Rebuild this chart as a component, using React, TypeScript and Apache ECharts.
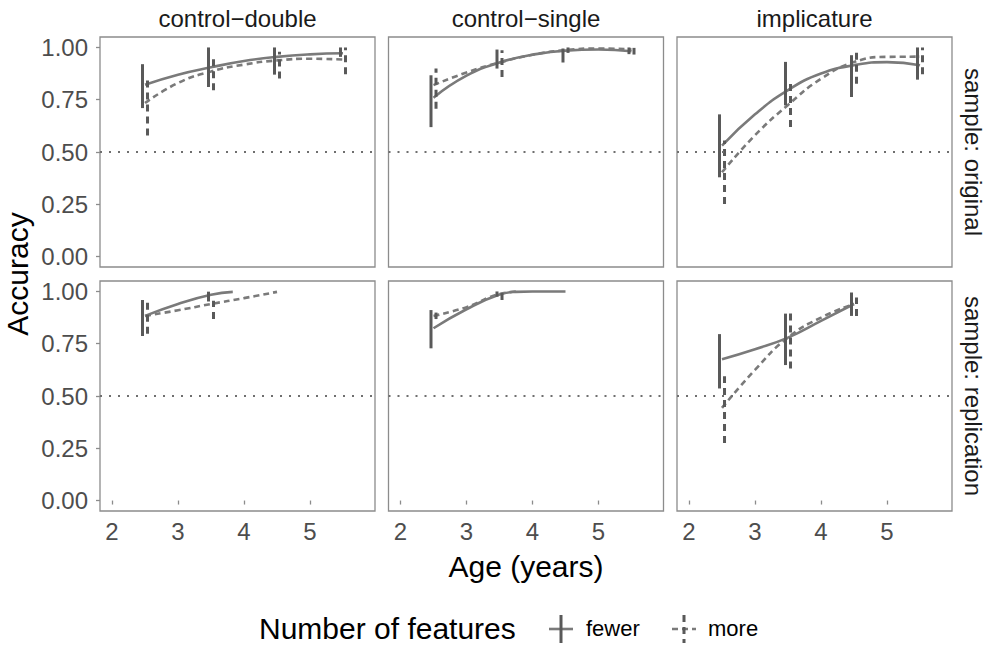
import React, { useEffect, useRef } from "react";
import * as echarts from "echarts";

const CONDITIONS = ["control\u2212double", "control\u2212single", "implicature"];
const SAMPLES = ["sample: original", "sample: replication"];
const Y_TICKS = [0, 0.25, 0.5, 0.75, 1];
const X_TICKS = [2, 3, 4, 5];
const BAR_AGES = [2.5, 3.5, 4.5, 5.5];
const CURVE_AGES = [2.5, 3, 3.5, 4, 4.5, 5, 5.5];
const CHANCE = 0.5;
const LEVELS = ["fewer", "more"];

// ---- sample: original ----
const origCdFewerCurve = [0.822, 0.87, 0.905, 0.935, 0.955, 0.967, 0.972];
const origCdMoreCurve = [0.734, 0.83, 0.885, 0.918, 0.938, 0.946, 0.942];
const origCsFewerCurve = [0.76, 0.865, 0.928, 0.965, 0.985, 0.99, 0.982];
const origCsMoreCurve = [0.82, 0.88, 0.928, 0.965, 0.987, 0.995, 0.99];
const origImFewerCurve = [0.531, 0.68, 0.796, 0.875, 0.915, 0.93, 0.915];
const origImMoreCurve = [0.403, 0.58, 0.725, 0.85, 0.93, 0.955, 0.956];

const origCdFewerLo = [0.71, 0.811, 0.87, 0.955];
const origCdFewerHi = [0.92, 1.0, 1.0, 1.0];
const origCdMoreLo = [0.579, 0.795, 0.851, 0.872];
const origCdMoreHi = [0.859, 0.947, 0.979, 1.0];
const origCsFewerLo = [0.619, 0.899, 0.928, 0.968];
const origCsFewerHi = [0.867, 0.99, 0.995, 1.0];
const origCsMoreLo = [0.707, 0.859, 0.974, 0.966];
const origCsMoreHi = [0.899, 0.987, 1.0, 0.998];
const origImFewerLo = [0.379, 0.723, 0.763, 0.846];
const origImFewerHi = [0.68, 0.931, 0.963, 1.0];
const origImMoreLo = [0.251, 0.619, 0.827, 0.872];
const origImMoreHi = [0.555, 0.835, 0.984, 1.0];

// ---- sample: replication ----
const repCdFewerAges = [2.5, 3, 3.5, 3.83];
const repCdFewerCurve = [0.883, 0.94, 0.984, 0.998];
const repCdMoreAges = [2.5, 3, 3.5, 4, 4.5];
const repCdMoreCurve = [0.883, 0.91, 0.94, 0.968, 0.998];
const repCsFewerAges = [2.5, 3, 3.5, 3.75, 4, 4.5];
const repCsFewerCurve = [0.824, 0.915, 0.985, 0.998, 1.0, 1.0];
const repCsMoreAges = [2.5, 3, 3.5, 3.8];
const repCsMoreCurve = [0.883, 0.925, 0.988, 1.0];
const repImAges = [2.5, 3, 3.5, 4, 4.5];
const repImFewerCurve = [0.676, 0.724, 0.779, 0.859, 0.94];
const repImMoreCurve = [0.443, 0.625, 0.78, 0.875, 0.94];

const repCdFewerLo = [0.787, 0.952];
const repCdFewerHi = [0.959, 0.999];
const repCdMoreLo = [0.798, 0.868];
const repCdMoreHi = [0.955, 0.955];
const repCsFewerLo = [0.728, 0.975];
const repCsFewerHi = [0.911, 1.0];
const repCsMoreLo = [0.868, 0.959];
const repCsMoreHi = [0.899, 0.995];
const repImFewerLo = [0.536, 0.648, 0.883];
const repImFewerHi = [0.796, 0.894, 0.995];
const repImMoreLo = [0.275, 0.632, 0.883];
const repImMoreHi = [0.595, 0.894, 0.971];

const zip = (xs: number[], ys: number[]) => ys.map((y, i) => [xs[i], y]);

const PANELS = [
  { row: 0, col: 0, fewer: zip(CURVE_AGES, origCdFewerCurve), more: zip(CURVE_AGES, origCdMoreCurve), fLo: origCdFewerLo, fHi: origCdFewerHi, mLo: origCdMoreLo, mHi: origCdMoreHi },
  { row: 0, col: 1, fewer: zip(CURVE_AGES, origCsFewerCurve), more: zip(CURVE_AGES, origCsMoreCurve), fLo: origCsFewerLo, fHi: origCsFewerHi, mLo: origCsMoreLo, mHi: origCsMoreHi },
  { row: 0, col: 2, fewer: zip(CURVE_AGES, origImFewerCurve), more: zip(CURVE_AGES, origImMoreCurve), fLo: origImFewerLo, fHi: origImFewerHi, mLo: origImMoreLo, mHi: origImMoreHi },
  { row: 1, col: 0, fewer: zip(repCdFewerAges, repCdFewerCurve), more: zip(repCdMoreAges, repCdMoreCurve), fLo: repCdFewerLo, fHi: repCdFewerHi, mLo: repCdMoreLo, mHi: repCdMoreHi },
  { row: 1, col: 1, fewer: zip(repCsFewerAges, repCsFewerCurve), more: zip(repCsMoreAges, repCsMoreCurve), fLo: repCsFewerLo, fHi: repCsFewerHi, mLo: repCsMoreLo, mHi: repCsMoreHi },
  { row: 1, col: 2, fewer: zip(repImAges, repImFewerCurve), more: zip(repImAges, repImMoreCurve), fLo: repImFewerLo, fHi: repImFewerHi, mLo: repImMoreLo, mHi: repImMoreHi },
];

const FONT = "'Liberation Sans', Arial, Helvetica, sans-serif";
const CURVE_COLOR = "#7a7a7a";
const BAR_COLOR = "#595959";
const BORDER = "#8c8c8c";
const COL_LEFT = [100, 388.5, 677];
const ROW_TOP = [37, 281];
const PW = 275;
const PH = 230;
const DODGE = 0.038;

export default function App() {
  const ref = useRef<HTMLDivElement>(null);
  useEffect(() => {
    if (!ref.current) return;
    const chart = echarts.init(ref.current, null, { renderer: "svg" });
    const grids: any[] = [];
    const xAxes: any[] = [];
    const yAxes: any[] = [];
    const series: any[] = [];

    PANELS.forEach((p, i) => {
      grids.push({
        left: COL_LEFT[p.col], top: ROW_TOP[p.row], width: PW, height: PH,
        show: true, borderColor: BORDER, borderWidth: 1.3, backgroundColor: "#fff",
      });
      const bottomRow = p.row === 1;
      const leftCol = p.col === 0;
      xAxes.push({
        type: "value", gridIndex: i, min: 1.818, max: 5.985,
        axisLine: { show: false },
        splitLine: { show: false },
        axisTick: { show: bottomRow, length: 4, lineStyle: { color: BORDER, width: 1.3 }, customValues: X_TICKS },
        axisLabel: { show: bottomRow, customValues: X_TICKS, margin: 8, fontSize: 24, color: "#4d4d4d", fontFamily: FONT },
      });
      yAxes.push({
        type: "value", gridIndex: i, min: -0.05, max: 1.05,
        axisLine: { show: false },
        splitLine: { show: false },
        axisTick: { show: leftCol, length: 4, lineStyle: { color: BORDER, width: 1.3 }, customValues: Y_TICKS },
        axisLabel: { show: leftCol, customValues: Y_TICKS, margin: 12, fontSize: 24, color: "#4d4d4d", fontFamily: FONT, formatter: (v: number) => v.toFixed(2) },
      });
      [p.fewer, p.more].forEach((curve, k) => {
        series.push({
          type: "line", xAxisIndex: i, yAxisIndex: i, data: curve,
          smooth: 0.5, showSymbol: false, symbol: "none", silent: true, z: 2,
          lineStyle: { color: CURVE_COLOR, width: 2.6, type: k === 0 ? "solid" : [6, 4] },
          markLine: k === 0 ? {
            silent: true, symbol: "none", label: { show: false },
            lineStyle: { color: "#6f6f6f", width: 2, type: [2, 7] },
            data: [{ yAxis: CHANCE }],
          } : undefined,
        });
      });
      [[p.fLo, p.fHi], [p.mLo, p.mHi]].forEach(([lo, hi], k) => {
        const off = k === 0 ? -DODGE : DODGE;
        series.push({
          type: "custom", xAxisIndex: i, yAxisIndex: i, z: 3, silent: true,
          name: LEVELS[k],
          data: lo.map((l, j) => [BAR_AGES[j] + off, l, hi[j]]),
          encode: { x: 0, y: [1, 2] },
          renderItem: (_params: any, api: any) => {
            const a = api.coord([api.value(0), api.value(1)]);
            const b = api.coord([api.value(0), api.value(2)]);
            return {
              type: "line",
              shape: { x1: a[0], y1: a[1], x2: b[0], y2: b[1] },
              style: { stroke: BAR_COLOR, lineWidth: 3, lineDash: k === 0 ? null : [7, 5], fill: null },
            };
          },
        });
      });
    });

    const graphic: any[] = [];
    CONDITIONS.forEach((c, j) => {
      graphic.push({
        type: "text", x: COL_LEFT[j] + PW / 2, y: 18,
        style: { text: c, fontSize: 24, fill: "#1a1a1a", fontFamily: FONT, align: "center", verticalAlign: "middle" },
      });
    });
    SAMPLES.forEach((s, r) => {
      graphic.push({
        type: "text", x: 973, y: ROW_TOP[r] + PH / 2, rotation: -Math.PI / 2,
        style: { text: s, fontSize: 24, fill: "#1a1a1a", fontFamily: FONT, align: "center", verticalAlign: "middle" },
      });
    });
    graphic.push({
      type: "text", x: 17, y: (ROW_TOP[0] + ROW_TOP[1] + PH) / 2, rotation: Math.PI / 2,
      style: { text: "Accuracy", fontSize: 30, fill: "#000", fontFamily: FONT, align: "center", verticalAlign: "middle" },
    });
    graphic.push({
      type: "text", x: (COL_LEFT[0] + COL_LEFT[2] + PW) / 2, y: 566,
      style: { text: "Age (years)", fontSize: 30, fill: "#000", fontFamily: FONT, align: "center", verticalAlign: "middle" },
    });
    const LY = 628;
    graphic.push({
      type: "text", x: 259, y: LY,
      style: { text: "Number of features", fontSize: 30, fill: "#000", fontFamily: FONT, align: "left", verticalAlign: "middle" },
    });
    const keyX = [561, 684];
    const labX = [586, 708];
    keyX.forEach((kx, k) => {
      const dash = k === 0 ? null : [6, 4];
      graphic.push({ type: "line", shape: { x1: kx - 12, y1: LY + 1, x2: kx + 12, y2: LY + 1 }, style: { stroke: CURVE_COLOR, lineWidth: 2.6, lineDash: dash } });
      graphic.push({ type: "line", shape: { x1: kx, y1: LY - 13, x2: kx, y2: LY + 15 }, style: { stroke: BAR_COLOR, lineWidth: 3, lineDash: k === 0 ? null : [7, 5] } });
      graphic.push({
        type: "text", x: labX[k], y: LY,
        style: { text: LEVELS[k], fontSize: 22, fill: "#000", fontFamily: FONT, align: "left", verticalAlign: "middle" },
      });
    });

    chart.setOption({
      animation: false,
      backgroundColor: "#fff",
      grid: grids,
      xAxis: xAxes,
      yAxis: yAxes,
      series,
      graphic,
    });
    return () => chart.dispose();
  }, []);
  return <div ref={ref} style={{ position: "absolute", left: 0, top: 0, width: 989, height: 655 }} />;
}
